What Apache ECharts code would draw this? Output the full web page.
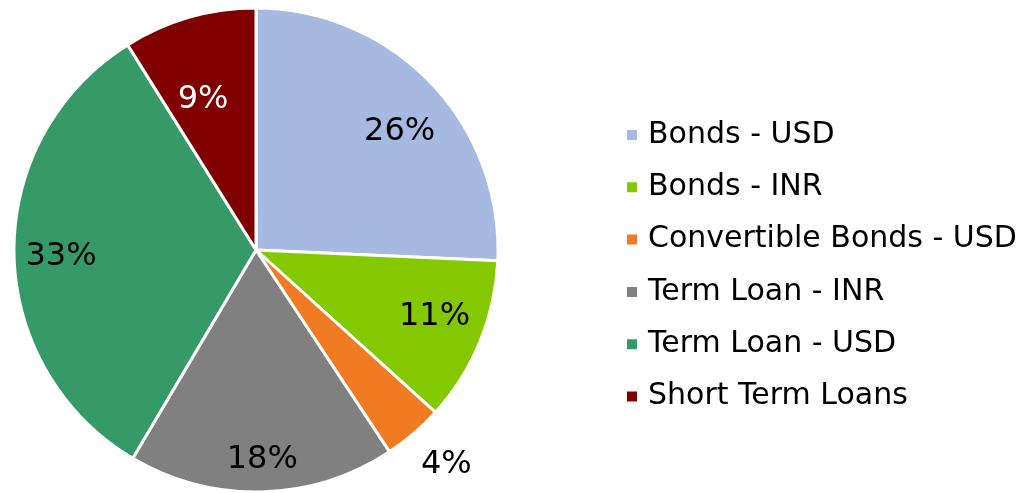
<!DOCTYPE html>
<html>
<head>
<meta charset="utf-8">
<script src="https://cdn.jsdelivr.net/npm/echarts@6/dist/echarts.min.js"></script>
<style>html,body{margin:0;padding:0;background:#fff}#c{width:1023px;height:493px}</style>
</head>
<body>
<div id="c"></div>
<script>
const categories = ['Bonds - USD','Bonds - INR','Convertible Bonds - USD','Term Loan - INR','Term Loan - USD','Short Term Loans'];
const values = [25.7, 11.0, 4.0, 17.8, 32.6, 8.9];
const colors = ['#A6B9E0','#84C800','#F07B22','#808080','#359A68','#800000'];
const labelColors = ['#000','#000','#000','#000','#000','#fff'];
// label placement styles: distance from centre (fraction of radius) and angle tweak (degrees)
const labelRadius = [0.773, 0.785, 1.178, 0.86, 0.806, 0.665];
const labelAngleTweak = [3.9, -2.3, -1.2, -0.3, -0.8, -3.2];

const CX = 256, CY = 250, R = 242, LABEL_DY = 2;
const total = values.reduce((a,b)=>a+b,0);
const chart = echarts.init(document.getElementById('c'));
chart.setOption({
  animation: false,
  legend: {
    orient: 'vertical',
    left: 620, top: 115,
    icon: 'rect', itemWidth: 12, itemHeight: 12, itemGap: 22.3,
    textStyle: { fontFamily: 'DejaVu Sans', fontSize: 30, color: '#000', padding: [0,0,0,5] },
    data: categories
  },
  series: [{
    type: 'pie',
    center: [CX, CY], radius: R,
    startAngle: 90, clockwise: true,
    itemStyle: { borderColor: '#fff', borderWidth: 3 },
    label: {
      position: 'inside',
      formatter: p => Math.round(p.value) + '%',
      fontFamily: 'DejaVu Sans', fontSize: 32
    },
    labelLine: { show: false },
    labelLayout: function (p) {
      let cum = 0;
      for (let i = 0; i < p.dataIndex; i++) cum += values[i];
      const mid = (cum + values[p.dataIndex] / 2) / total * 2 * Math.PI + labelAngleTweak[p.dataIndex] * Math.PI / 180;
      const r = R * labelRadius[p.dataIndex];
      return { x: CX + r * Math.sin(mid), y: CY - r * Math.cos(mid) + LABEL_DY, align: 'center', verticalAlign: 'middle' };
    },
    data: categories.map((n, i) => ({
      name: n, value: values[i],
      itemStyle: { color: colors[i] },
      label: { color: labelColors[i] }
    }))
  }]
});
</script>
</body>
</html>
